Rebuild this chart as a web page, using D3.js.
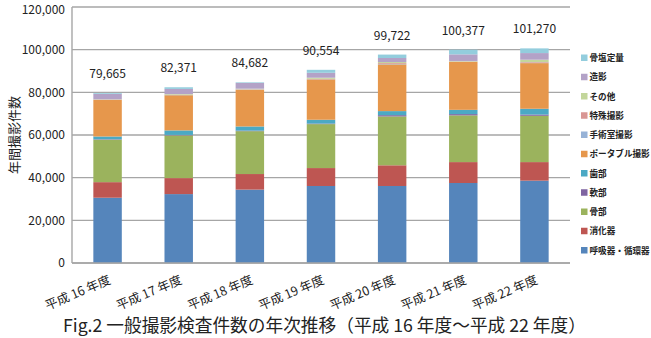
<!DOCTYPE html>
<html>
<head>
<meta charset="utf-8">
<script src="https://cdn.jsdelivr.net/npm/d3@7/dist/d3.min.js"></script>
<style>
  html, body { margin: 0; padding: 0; background: #fff; }
  svg { display: block; }
  text { font-family: "Noto Sans CJK JP", "Noto Sans", sans-serif; fill: #222; }
</style>
</head>
<body>
<svg id="chart" width="651" height="338"></svg>
<script>
// ---- data ----
const categories = ["平成 16 年度", "平成 17 年度", "平成 18 年度", "平成 19 年度", "平成 20 年度", "平成 21 年度", "平成 22 年度"];
const seriesNames = ["呼吸器・循環器", "消化器", "骨部", "軟部", "歯部", "ポータブル撮影", "手術室撮影", "特殊撮影", "その他", "造影", "骨塩定量"];
const respiratory = [30600, 32300, 34400, 36100, 36100, 37500, 38600];
const digestive   = [ 7300,  7500,  7300,  8400,  9700,  9800,  8700];
const bone        = [19900, 20000, 20100, 20600, 22900, 21900, 21700];
const softTissue  = [  200,   250,   250,   250,   600,   600,   600];
const dental      = [ 1300,  2100,  1950,  1800,  1900,  2000,  2700];
const portable    = [17200, 16500, 17200, 18900, 21900, 22500, 21400];
const surgery     = [  100,   100,   100,   100,   200,   100,   200];
const special     = [  100,   150,   150,   200,   400,   100,   300];
const other       = [  100,   300,   250,   500,   500,   200,  1100];
const contrast    = [ 2500,  2400,  2700,  2300,  1900,  3100,  3100];
const boneDensity = [  365,   771,   282,  1404,  1600,  2200,  2200];
const totalLabels = [79665, 82371, 84682, 90554, 99722, 100377, 101270];
const yTicks = [0, 20000, 40000, 60000, 80000, 100000, 120000];
const yTitle = "年間撮影件数";
const chartTitle = "Fig.2 一般撮影検査件数の年次推移（平成 16 年度～平成 22 年度）";
const colors = ["#5585BB", "#BE5652", "#9BB35D", "#7F64A1", "#4BA9C4", "#E6974C", "#97B2D6", "#D99694", "#C3D69B", "#B3A2C7", "#93CDDD"];

const seriesValues = [respiratory, digestive, bone, softTissue, dental, portable, surgery, special, other, contrast, boneDensity];

// ---- layout ----
const svg = d3.select("#chart");
const plot = { left: 72, right: 570, top: 7, bottom: 263 };

const x = d3.scaleBand().domain(categories).range([plot.left, plot.right]).paddingInner(0.6).paddingOuter(0.3);
const y = d3.scaleLinear().domain([0, 120000]).range([plot.bottom, plot.top]);

const rows = categories.map((c, i) => {
  const r = { cat: c };
  seriesNames.forEach((s, k) => r[s] = seriesValues[k][i]);
  return r;
});
const stacked = d3.stack().keys(seriesNames)(rows);
const color = d3.scaleOrdinal().domain(seriesNames).range(colors);

// gridlines
svg.append("g").selectAll("line").data(yTicks).join("line")
  .attr("x1", plot.left).attr("x2", plot.right)
  .attr("y1", d => y(d)).attr("y2", d => y(d))
  .attr("stroke", "#A6A6A6").attr("stroke-width", 1.4);

// y axis line
svg.append("line").attr("x1", plot.left).attr("x2", plot.left)
  .attr("y1", plot.top).attr("y2", plot.bottom)
  .attr("stroke", "#A6A6A6").attr("stroke-width", 1.4);

// y tick labels via axis
const yAxis = svg.append("g").attr("transform", `translate(${plot.left},0)`)
  .call(d3.axisLeft(y).tickValues(yTicks).tickFormat(d3.format(",")).tickSize(0).tickPadding(7));
yAxis.select(".domain").remove();
yAxis.selectAll("text").style("font-size", "12px").attr("fill", "#222")
  .attr("dy", d => d === d3.max(yTicks) ? "0.55em" : "0.32em");

// bars
svg.append("g").selectAll("g").data(stacked).join("g")
  .attr("fill", d => color(d.key))
  .selectAll("rect").data(d => d).join("rect")
  .attr("x", d => x(d.data.cat))
  .attr("width", x.bandwidth())
  .attr("y", d => y(d[1]))
  .attr("height", d => Math.max(0, y(d[0]) - y(d[1])));

// total labels
const tops = categories.map((c, i) => d3.sum(seriesValues, s => s[i]));
svg.append("g").selectAll("text").data(totalLabels).join("text")
  .attr("x", (d, i) => x(categories[i]) + x.bandwidth() / 2)
  .attr("y", (d, i) => y(tops[i]) - 15)
  .attr("text-anchor", "middle")
  .style("font-size", "12px")
  .text(d => d3.format(",")(d));

// x tick labels
const xAxis = svg.append("g").attr("transform", `translate(0,${plot.bottom})`)
  .call(d3.axisBottom(x).tickSize(0).tickPadding(0));
xAxis.select(".domain").attr("stroke", "#A6A6A6").attr("stroke-width", 1.4)
  .attr("d", `M${plot.left},0H${plot.right}`);
xAxis.selectAll("text")
  .attr("text-anchor", "end")
  .attr("dy", 0).attr("y", 0)
  .attr("transform", `translate(4,20) rotate(-23)`)
  .style("font-size", "12.5px").attr("fill", "#222");

// y title
svg.append("text")
  .attr("transform", `translate(19,${(plot.top + plot.bottom) / 2}) rotate(-90)`)
  .attr("text-anchor", "middle")
  .style("font-size", "13px")
  .text(yTitle);

// legend
const legendNames = seriesNames.slice().reverse();
const lg = svg.append("g").selectAll("g").data(legendNames).join("g")
  .attr("transform", (d, i) => `translate(581,${58 + i * 19.25})`);
lg.append("rect").attr("x", 0).attr("y", -3.5).attr("width", 6.5).attr("height", 6.5)
  .attr("fill", d => color(d));
lg.append("text").attr("x", 8.5).attr("y", 0).attr("dy", "0.36em")
  .style("font-size", "8.6px").style("font-weight", "bold").attr("fill", "#333")
  .text(d => d);

// title
svg.append("text")
  .attr("x", 63).attr("y", 326).attr("dy", "0.35em")
  .style("font-size", "17.7px").attr("fill", "#222")
  .text(chartTitle);
</script>
</body>
</html>
